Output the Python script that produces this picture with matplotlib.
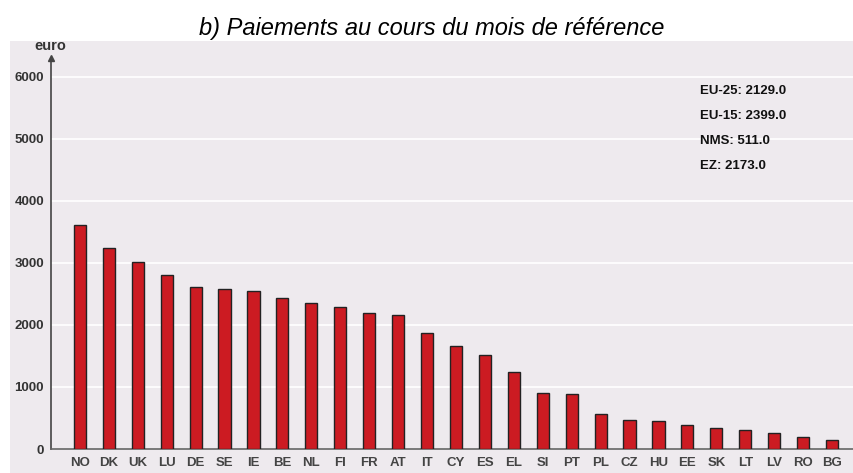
import numpy as np
import matplotlib.pyplot as plt
from matplotlib.patches import Rectangle

###########################################################################################################################################################
################################################################### Data ##################################################################################
###########################################################################################################################################################
countries                       = ["NO", "DK", "UK", "LU", "DE", "SE", "IE", "BE", "NL", "FI", "FR", "AT", "IT",
                                   "CY", "ES", "EL", "SI", "PT", "PL", "CZ", "HU", "EE", "SK", "LT", "LV", "RO", "BG"]
payments                        = [3610, 3245, 3015, 2810, 2605, 2585, 2550, 2440, 2355, 2295, 2195, 2155, 1865,
                                   1660, 1515, 1245, 905, 880, 570, 473, 446, 387, 344, 306, 263, 188, 145]
aggregates                      = ["EU-25: 2129.0", "EU-15: 2399.0", "NMS: 511.0", "EZ: 2173.0"]
y_ticks                         = [0, 1000, 2000, 3000, 4000, 5000, 6000]

###########################################################################################################################################################
################################################################### Plot ##################################################################################
###########################################################################################################################################################
plt.rcParams["font.family"]     = ["Liberation Sans", "DejaVu Sans"]
bg                              = "#eeeaee"
W, H                            = 854, 473

fig = plt.figure(figsize = (W/100, H/100), dpi = 100, facecolor = "white")
fig.patches.append(Rectangle((10/W, 0), 1 - 10/W, (H - 41)/H, transform = fig.transFigure,
                             facecolor = bg, edgecolor = "none", zorder = -5))
fig.text(432/W, 1 - 29/H, "b) Paiements au cours du mois de référence", ha = "center", va = "center",
         fontsize = 17, style = "italic")

ax = fig.add_axes([51/W, (H - 449)/H, (W - 51)/W, (449 - 58)/H])
ax.set_facecolor("none")
x = np.arange(len(countries))
ax.bar(x, payments, width = 0.42, color = "#cc1b22", edgecolor = "#222222", linewidth = 1, zorder = 3)
ax.set_xlim(-1.0, len(countries) - 1 + 0.76)
ax.set_ylim(0, 6300)
ax.set_yticks(y_ticks)
ax.set_yticklabels([str(t) for t in y_ticks], fontsize = 9.5, fontweight = "bold", color = "#333333")
ax.set_xticks(x)
ax.set_xticklabels(countries, fontsize = 9.5, fontweight = "bold", color = "#444444")
ax.tick_params(axis = "both", length = 0)
ax.tick_params(axis = "y", pad = 5)
ax.tick_params(axis = "x", pad = 6)
for t in y_ticks[1:]:
    ax.axhline(t, color = "white", linewidth = 1.2, zorder = 1)
for s in ["top", "right"]:
    ax.spines[s].set_visible(False)
ax.spines["left"].set_color("#444444")
ax.spines["bottom"].set_color("#666666")
ax.spines["left"].set_linewidth(1.2)
ax.spines["bottom"].set_linewidth(1.2)
ax.plot(0, 1, marker = "^", color = "#444444", markersize = 5, transform = ax.transAxes, clip_on = False, zorder = 5)
fig.text(50/W, 1 - 46/H, "euro", ha = "center", va = "center", fontsize = 10.5, fontweight = "bold", color = "#333333")

for n, s in enumerate(aggregates):
    fig.text(700/W, 1 - (91 + 25*n)/H, s, ha = "left", va = "center", fontsize = 9.5, fontweight = "bold", color = "#111111")

fig.savefig("out.png", dpi = 100, facecolor = "white")
